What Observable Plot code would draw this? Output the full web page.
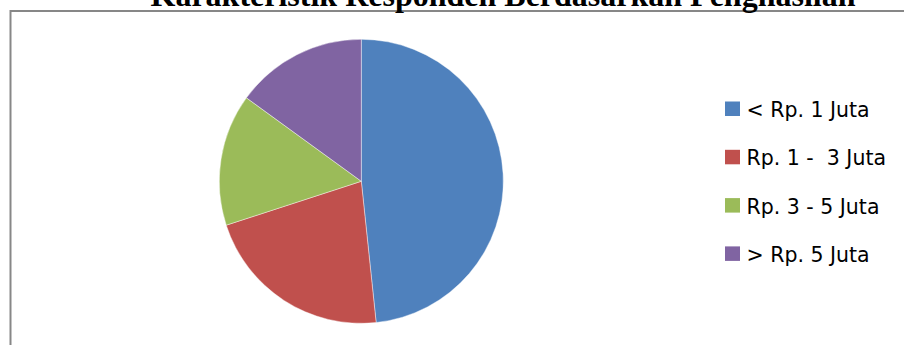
<!DOCTYPE html>
<html><head><meta charset="utf-8">
<script src="https://cdn.jsdelivr.net/npm/d3@7"></script>
<script src="https://cdn.jsdelivr.net/npm/@observablehq/plot@0.6"></script>
<style>
body{margin:0;background:#fff}
svg{display:block}
svg text{white-space:pre}
</style>
</head><body><div id="chart"></div>
<script>
const title = "Karakteristik Responden Berdasarkan Penghasilan";
const categories = ["< Rp. 1 Juta", "Rp. 1 -  3 Juta", "Rp. 3 - 5 Juta", "> Rp. 5 Juta"];
const counts = [29, 13, 9, 9];
const colors = ["#4F81BD", "#C0504D", "#9BBB59", "#8064A2"];

const rows = categories.map((c, i) => ({category: c, count: counts[i], rank: i}));

const pieCx = 361.3, pieCy = 181.3, pieR = 142;

const pieMark = (index, scales, values, dimensions, context) => {
  const arcs = d3.pie().sort(null).value(d => d.count)(rows);
  const arc = d3.arc().innerRadius(0).outerRadius(pieR);
  const g = d3.create("svg:g")
    .attr("aria-label", "pie")
    .attr("transform", `translate(${scales.x(pieCx)},${scales.y(pieCy)})`);
  g.selectAll("path").data(arcs).join("path")
    .attr("d", arc)
    .attr("fill", d => scales.color(d.data.category))
    .attr("stroke", "#ffffff")
    .attr("stroke-opacity", 0.7)
    .attr("stroke-width", 0.6);
  return g.node();
};

const chart = Plot.plot({
  width: 904, height: 345, margin: 0,
  x: {type: "identity"}, y: {type: "identity"},
  color: {domain: categories, range: colors},
  style: {background: "#fff"},
  marks: [
    Plot.rect([0], {x1: 10.5, y1: 11, x2: 940, y2: 380, fill: "none", stroke: "#878787", strokeWidth: 2}),
    pieMark,
    Plot.rect(rows, {x1: 725, x2: 740, y1: d => 101.5 + d.rank * 48.3, y2: d => 116 + d.rank * 48.3, fill: "category"}),
    Plot.text(rows, {x: 746, y: d => 110 + d.rank * 48.3, text: "category", textAnchor: "start", lineAnchor: "middle",
      fontFamily: "DejaVu Sans", fontSize: 20.5, fill: "#000"}),
    Plot.text([title], {x: 150, y: 5, text: d => d, textAnchor: "start", lineAnchor: "bottom",
      fontFamily: "Liberation Serif", fontWeight: "bold", fontSize: 32, fill: "#000"})
  ]
});
document.getElementById("chart").appendChild(chart);
</script>
</body></html>
